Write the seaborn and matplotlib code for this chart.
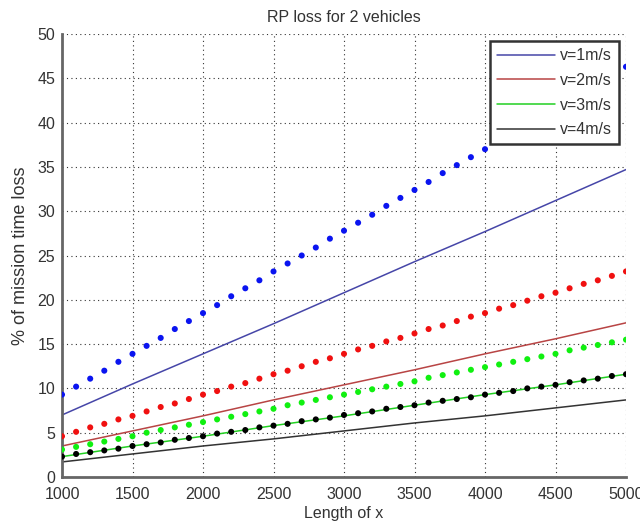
import matplotlib
matplotlib.use("Agg")
import matplotlib.pyplot as plt
import seaborn as sns
import pandas as pd

# ---- data ----
x_dots = [1000, 1100, 1200, 1300, 1400, 1500, 1600, 1700, 1800, 1900,
          2000, 2100, 2200, 2300, 2400, 2500, 2600, 2700, 2800, 2900,
          3000, 3100, 3200, 3300, 3400, 3500, 3600, 3700, 3800, 3900,
          4000, 4100, 4200, 4300, 4400, 4500, 4600, 4700, 4800, 4900, 5000]
dots_v1 = [9.3, 10.2, 11.1, 12.0, 13.0, 13.9, 14.8, 15.7, 16.7, 17.6,
           18.5, 19.4, 20.4, 21.3, 22.2, 23.2, 24.1, 25.0, 25.9, 26.9,
           27.8, 28.7, 29.6, 30.6, 31.5, 32.4, 33.3, 34.3, 35.2, 36.1,
           37.0, 38.0, 38.9, 39.8, 40.7, 41.7, 42.6, 43.5, 44.4, 45.4, 46.3]
dots_v2 = [4.6, 5.1, 5.6, 6.0, 6.5, 6.9, 7.4, 7.9, 8.3, 8.8,
           9.3, 9.7, 10.2, 10.6, 11.1, 11.6, 12.0, 12.5, 13.0, 13.4,
           13.9, 14.4, 14.8, 15.3, 15.7, 16.2, 16.7, 17.1, 17.6, 18.1,
           18.5, 19.0, 19.4, 19.9, 20.4, 20.8, 21.3, 21.8, 22.2, 22.7, 23.2]
dots_v3 = [3.1, 3.4, 3.7, 4.0, 4.3, 4.6, 5.0, 5.3, 5.6, 5.9,
           6.2, 6.5, 6.8, 7.1, 7.4, 7.7, 8.1, 8.4, 8.7, 9.0,
           9.3, 9.6, 9.9, 10.2, 10.5, 10.8, 11.2, 11.5, 11.8, 12.1,
           12.4, 12.7, 13.0, 13.3, 13.6, 13.9, 14.3, 14.6, 14.9, 15.2, 15.5]
dots_v4 = [2.3, 2.6, 2.8, 3.0, 3.2, 3.5, 3.7, 3.9, 4.2, 4.4,
           4.6, 4.9, 5.1, 5.3, 5.6, 5.8, 6.0, 6.3, 6.5, 6.7,
           7.0, 7.2, 7.4, 7.7, 7.9, 8.1, 8.4, 8.6, 8.8, 9.0,
           9.3, 9.5, 9.7, 10.0, 10.2, 10.4, 10.7, 10.9, 11.1, 11.4, 11.6]

x_lines = [1000, 1500, 2000, 2500, 3000, 3500, 4000, 4500, 5000]
line_v1 = [7.0, 10.5, 13.9, 17.3, 20.8, 24.3, 27.7, 31.2, 34.7]
line_v2 = [3.5, 5.2, 6.9, 8.7, 10.4, 12.1, 13.9, 15.6, 17.4]
line_v3 = [2.3, 3.5, 4.6, 5.8, 6.9, 8.1, 9.3, 10.4, 11.6]
line_v4 = [1.7, 2.6, 3.5, 4.3, 5.2, 6.1, 6.9, 7.8, 8.7]

labels = ["v=1m/s", "v=2m/s", "v=3m/s", "v=4m/s"]
x_ticks = [1000, 1500, 2000, 2500, 3000, 3500, 4000, 4500, 5000]
y_ticks = [0, 5, 10, 15, 20, 25, 30, 35, 40, 45, 50]

title = "RP loss for 2 vehicles"
xlabel = "Length of x"
ylabel = "% of mission time loss"

# ---- style ----
sns.set_theme(style="white")
plt.rcParams["font.family"] = ["Liberation Sans", "DejaVu Sans"]

line_colors = ["#4646a8", "#b84444", "#22d022", "#333333"]
dot_colors = ["#0a14f0", "#f01010", "#10f010", "#000000"]

lines_df = pd.concat([
    pd.DataFrame({"x": x_lines, "y": v, "series": lab})
    for v, lab in zip([line_v1, line_v2, line_v3, line_v4], labels)
])
dots_df = pd.concat([
    pd.DataFrame({"x": x_dots, "y": v, "series": lab})
    for v, lab in zip([dots_v1, dots_v2, dots_v3, dots_v4], labels)
])

fig = plt.figure(figsize=(6.4, 5.25), dpi=100)
ax = fig.add_axes([62 / 640, 1 - 477 / 525, (626 - 62) / 640, (477 - 34) / 525])

sns.lineplot(data=lines_df, x="x", y="y", hue="series",
             palette=dict(zip(labels, line_colors)), linewidth=1.1,
             ax=ax, zorder=2, legend=True)
sns.scatterplot(data=dots_df, x="x", y="y", hue="series",
                palette=dict(zip(labels, dot_colors)), s=19,
                linewidth=0, ax=ax, zorder=3, legend=False)

ax.set_xlim(1000, 5000)
ax.set_ylim(0, 50)
ax.set_xticks(x_ticks)
ax.set_yticks(y_ticks)
ax.tick_params(direction="in", length=4, width=1, colors="#555555",
               labelcolor="#333333", labelsize=11.5)
ax.tick_params(axis="x", pad=7)
ax.tick_params(axis="y", pad=5)
ax.grid(True, color="#333333", linestyle=(0, (1, 3)), linewidth=0.8)

for s in ["top", "right"]:
    ax.spines[s].set_visible(False)
for s in ["left", "bottom"]:
    ax.spines[s].set_color("#666666")
    ax.spines[s].set_linewidth(2)

ax.set_title(title, fontsize=11.5, color="#333333", pad=9)
ax.set_xlabel(xlabel, fontsize=11.5, color="#333333", labelpad=3)
ax.set_ylabel(ylabel, fontsize=13, color="#333333", labelpad=6)

handles, labs = ax.get_legend_handles_labels()
leg = ax.legend(handles, labs, loc="upper right", fontsize=11.5,
                frameon=True, fancybox=False, framealpha=1,
                edgecolor="#333333", handlelength=3.6, handletextpad=0.3,
                labelspacing=0.6, borderpad=0.45, borderaxespad=0.45)
leg.get_frame().set_linewidth(1.8)
for t in leg.get_texts():
    t.set_color("#333333")
leg.set_zorder(10)

fig.savefig("out.png", dpi=100)
